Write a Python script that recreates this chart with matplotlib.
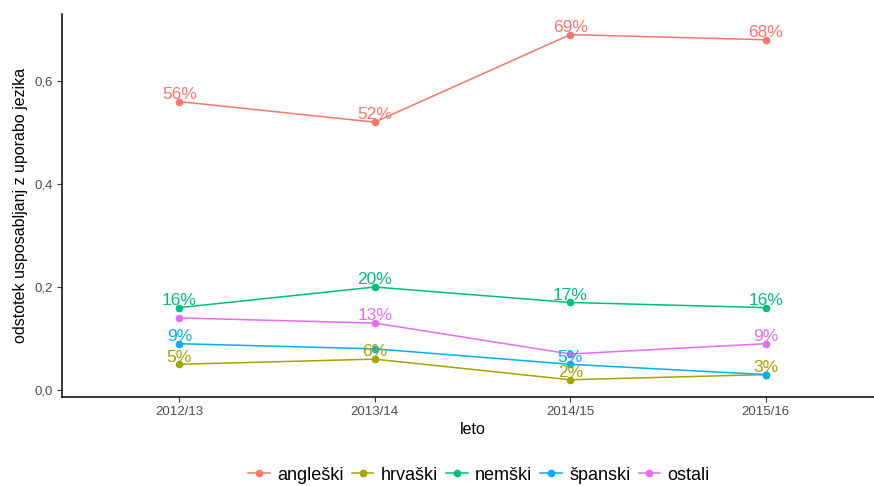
import matplotlib
matplotlib.use('Agg')
import matplotlib.pyplot as plt
from matplotlib.lines import Line2D

plt.rcParams['font.family'] = ['Liberation Sans', 'DejaVu Sans']

# podatki
leta = ['2012/13', '2013/14', '2014/15', '2015/16']
jeziki = ['angleški', 'hrvaški', 'nemški', 'španski', 'ostali']
barve = ['#F8766D', '#A3A500', '#00BF7D', '#00B0F6', '#E76BF3']

angleski = [0.56, 0.52, 0.69, 0.68]
hrvaski = [0.05, 0.06, 0.02, 0.03]
nemski = [0.16, 0.20, 0.17, 0.16]
spanski = [0.09, 0.08, 0.05, 0.03]
ostali = [0.14, 0.13, 0.07, 0.09]

# kateri napisi so vidni (ostali se prekrivajo)
napisi_angleski = ['56%', '52%', '69%', '68%']
napisi_hrvaski = ['5%', '6%', '2%', '3%']
napisi_nemski = ['16%', '20%', '17%', '16%']
napisi_spanski = ['9%', '', '5%', '']
napisi_ostali = ['', '13%', '', '9%']

vrednosti = [angleski, hrvaski, nemski, spanski, ostali]
napisi = [napisi_angleski, napisi_hrvaski, napisi_nemski, napisi_spanski, napisi_ostali]

fig = plt.figure(figsize=(8.74, 4.86), dpi=100)
W, H = 874, 486
ax = fig.add_axes([62 / W, 1 - 397 / H, 821 / W, 383 / H])

x = list(range(len(leta)))
for ime, y, lab, c in zip(jeziki, vrednosti, napisi, barve):
    ax.plot(x, y, color=c, lw=1.1, marker='o', ms=4.5, mec=c, mfc=c, zorder=3)
    for xi, yi, t in zip(x, y, lab):
        if t:
            ax.text(xi, yi + 0.014, t, color=c, fontsize=12.5,
                    ha='center', va='center', zorder=4)

ax.set_xlim(-0.6, 3.6)
ax.set_ylim(-0.0135, 0.73)
ax.set_xticks(x)
ax.set_xticklabels(leta)
ax.set_yticks([0.0, 0.2, 0.4, 0.6])
ax.set_yticklabels(['0,0', '0,2', '0,4', '0,6'])
ax.tick_params(axis='both', labelsize=9.5, colors='#333333', labelcolor='#4D4D4D',
               length=3.5, width=0.8, direction='out', pad=3)

for s in ['top', 'right']:
    ax.spines[s].set_visible(False)
for s in ['left', 'bottom']:
    ax.spines[s].set_linewidth(1.1)
    ax.spines[s].set_color('black')

ax.set_xlabel('leto', fontsize=11.5, labelpad=3)
ax.set_ylabel('odstotek usposabljanj z uporabo jezika', fontsize=11.5, labelpad=5)

rocaji = [Line2D([0], [0], color=c, lw=1.1, marker='o', ms=4.5) for c in barve]
fig.legend(rocaji, jeziki, loc='center', bbox_to_anchor=(479 / W, 1 - 475 / H),
           ncol=5, frameon=False, fontsize=13, handlelength=1.2,
           handletextpad=0.4, columnspacing=0.45)

fig.savefig('out.png', dpi=100)
